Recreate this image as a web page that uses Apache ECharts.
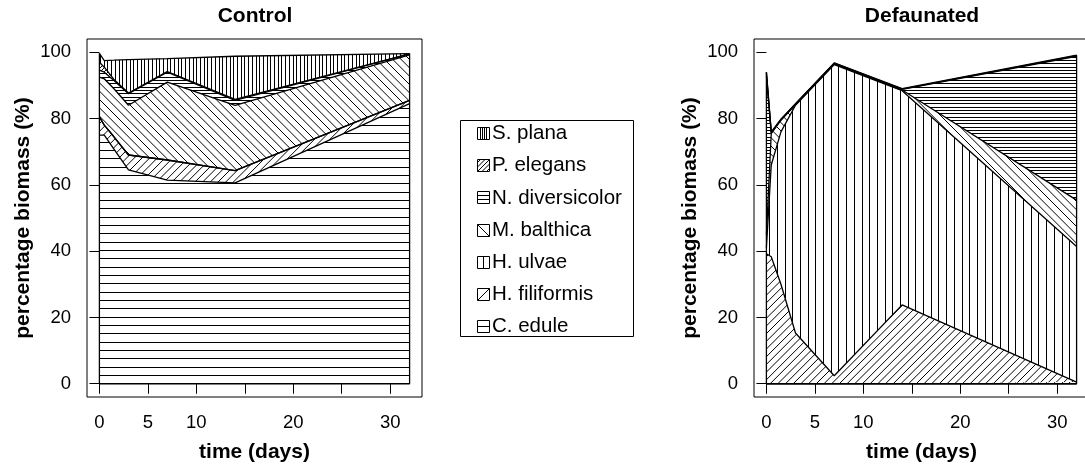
<!DOCTYPE html>
<html>
<head>
<meta charset="utf-8">
<script src="https://cdn.jsdelivr.net/npm/echarts@6/dist/echarts.min.js"></script>
<style>
  html, body { margin: 0; padding: 0; background: #fff; }
  #main { width: 1085px; height: 466px; }
</style>
</head>
<body>
<div id="main"></div>
<script>
// sampling days
const times = [0, 0.5, 1.5, 3, 7, 14, 32];

// legend order (top of stack first)
const species = ['S. plana', 'P. elegans', 'N. diversicolor', 'M. balthica', 'H. ulvae', 'H. filiformis', 'C. edule'];

// Control, % biomass per species
const controlSPlana = [2.7, 2.0, 5.8, 10.1, 3.9, 13.0, 0.1];
const controlPElegans = [2.4, 1.5, 0.3, 0.2, 0.2, 0.3, 0.0];
const controlNDiversicolor = [2.1, 2.0, 2.5, 3.5, 3.0, 1.5, 0.3];
const controlMBalthica = [12.0, 14.0, 14.5, 15.0, 23.5, 19.7, 13.7];
const controlHUlvae = [0, 0, 0, 0, 0, 0, 0];
const controlHFiliformis = [5.5, 3.0, 3.7, 4.5, 6.1, 3.7, 1.0];
const controlCEdule = [75.0, 75.0, 70.8, 64.5, 61.4, 60.6, 84.5];

// Defaunated, % biomass per species
const defSPlana = [0.2, 0.3, 0.1, 0.1, 0.1, 0.1, 0.1];
const defPElegans = [0.8, 0.1, 0.1, 0.1, 0.1, 0.1, 0.2];
const defNDiversicolor = [48.0, 0.1, 0.1, 0.1, 0.1, 0.2, 43.4];
const defMBalthica = [4.0, 9.5, 3.5, 0.2, 0.2, 0.2, 14.0];
const defHUlvae = [1.8, 27.7, 46.0, 68.7, 93.9, 64.6, 40.9];
const defHFiliformis = [39.2, 38.3, 30.0, 15.3, 2.4, 23.8, 0.5];
const defCEdule = [0, 0, 0, 0, 0, 0, 0];

// axis ticks
const xTicks = [0, 5, 10, 15, 20, 25, 30];
const xLabels = [0, 5, 10, 20, 30];
const yTicks = [0, 20, 40, 60, 80, 100];

const controlData = [controlSPlana, controlPElegans, controlNDiversicolor, controlMBalthica, controlHUlvae, controlHFiliformis, controlCEdule];
const defData = [defSPlana, defPElegans, defNDiversicolor, defMBalthica, defHUlvae, defHFiliformis, defCEdule];

const FONT = '"Liberation Sans", Arial, sans-serif';

// hatching per species: kind + lines per 100px
const hatch = {
    'S. plana': ['v', 27],
    'P. elegans': ['d1', 25],
    'N. diversicolor': ['h', 30],
    'M. balthica': ['d2', 12],
    'H. ulvae': ['v', 13],
    'H. filiformis': ['d1', 13],
    'C. edule': ['h', 12]
};

function hatchTile(kind, n) {
    const S = 100;
    const c = document.createElement('canvas');
    c.width = S; c.height = S;
    const g = c.getContext('2d');
    g.fillStyle = '#fff';
    g.fillRect(0, 0, S, S);
    g.strokeStyle = '#000';
    g.lineWidth = 1;
    g.beginPath();
    const p = S / n;
    if (kind === 'h' || kind === 'v') {
        for (let i = 0; i < n; i++) {
            const d = Math.round(i * p) + 0.5;
            if (kind === 'h') { g.moveTo(0, d); g.lineTo(S, d); }
            else { g.moveTo(d, 0); g.lineTo(d, S); }
        }
    } else if (kind === 'd1') {
        for (let k = 0; k <= 2 * n; k++) {
            const cc = k * p;
            g.moveTo(cc + 2, -2); g.lineTo(cc - S - 2, S + 2);
        }
    } else {
        for (let k = -n; k <= n; k++) {
            const cc = k * p;
            g.moveTo(cc - 2, -2); g.lineTo(cc + S + 2, S + 2);
        }
    }
    g.stroke();
    return c;
}

function swatch(name) {
    const s = 13;
    const c = document.createElement('canvas');
    c.width = s; c.height = s;
    const g = c.getContext('2d');
    g.strokeStyle = '#000';
    g.lineWidth = 1;
    g.beginPath();
    const kind = hatch[name][0];
    const dense = hatch[name][1] > 20;
    const a = 0.5, b = s - 0.5;
    if (kind === 'v') {
        const xs = dense ? [3.5, 5.5, 7.5, 9.5] : [6.5];
        xs.forEach(x => { g.moveTo(x, a); g.lineTo(x, b); });
    } else if (kind === 'h') {
        const ys = dense ? [4.5, 8.5] : [6.5];
        ys.forEach(y => { g.moveTo(a, y); g.lineTo(b, y); });
    } else if (kind === 'd1') {
        const cs = dense ? [4, 8.5, 13, 17.5, 22] : [13];
        cs.forEach(cc => { g.moveTo(Math.max(a, cc - b), Math.min(b, cc - a)); g.lineTo(Math.min(b, cc - a), Math.max(a, cc - b)); });
    } else {
        g.moveTo(a, a); g.lineTo(b, b);
    }
    g.rect(a, a, s - 1, s - 1);
    g.stroke();
    return c;
}

// cumulative totals, layer k = sum of layers from C. edule up to k
function cumulative(data) {
    const cum = [];
    let run = times.map(() => 0);
    for (let k = species.length - 1; k >= 0; k--) {
        run = run.map((v, i) => v + data[k][i]);
        cum[k] = run.slice();
    }
    return cum;
}

function panelSeries(data, idx) {
    const cum = cumulative(data);
    const out = [];
    // areas: highest cumulative first, lower layers painted over it
    for (let k = 0; k < species.length; k++) {
        const name = species[k];
        out.push({
            name: name,
            type: 'line',
            xAxisIndex: idx,
            yAxisIndex: idx,
            data: times.map((t, i) => [t, cum[k][i]]),
            symbol: 'none',
            lineStyle: { width: 0, opacity: 0 },
            areaStyle: { color: { image: hatchTile(hatch[name][0], hatch[name][1]), repeat: 'repeat' }, opacity: 1, origin: 0 },
            z: 2,
            silent: true
        });
    }
    // boundary lines on top
    for (let k = 0; k < species.length; k++) {
        out.push({
            type: 'line',
            xAxisIndex: idx,
            yAxisIndex: idx,
            data: times.map((t, i) => [t, cum[k][i]]),
            symbol: 'none',
            lineStyle: { color: '#000', width: 1.3 },
            z: 3,
            silent: true
        });
    }
    // polygon outline: left edge, base line, right edge
    const last = times.length - 1;
    out.push({
        type: 'line',
        xAxisIndex: idx,
        yAxisIndex: idx,
        data: [[times[0], cum[0][0]], [times[0], 0], [times[last], 0], [times[last], cum[0][last]]],
        symbol: 'none',
        lineStyle: { color: '#000', width: 1.3 },
        z: 3,
        silent: true
    });
    return out;
}

function xAxisFor(idx) {
    return {
        gridIndex: idx, type: 'value', min: -1.28, max: 33.28,
        axisLine: { show: false },
        splitLine: { show: false },
        axisTick: { show: true, length: 10, customValues: xTicks, lineStyle: { color: '#000', width: 1 } },
        axisLabel: { customValues: xLabels, fontSize: 18.5, color: '#000', margin: 16, fontFamily: FONT },
        name: 'time (days)', nameLocation: 'middle', nameGap: 45,
        nameTextStyle: { fontSize: 21, fontWeight: 'bold', color: '#000', fontFamily: FONT }
    };
}

function yAxisFor(idx) {
    return {
        gridIndex: idx, type: 'value', min: -4, max: 104,
        axisLine: { show: false },
        splitLine: { show: false },
        axisTick: { show: true, length: 10, customValues: yTicks, lineStyle: { color: '#000', width: 1 } },
        axisLabel: { customValues: yTicks, fontSize: 18.5, color: '#000', margin: 16, fontFamily: FONT },
        name: 'percentage biomass (%)', nameLocation: 'middle', nameGap: 53,
        nameTextStyle: { fontSize: 21, fontWeight: 'bold', color: '#000', fontFamily: FONT }
    };
}

// legend drawn as graphic elements
const legendItems = [];
legendItems.push({
    type: 'rect', shape: { x: 460.5, y: 120.5, width: 173, height: 216 },
    style: { fill: 'none', stroke: '#000', lineWidth: 1 }
});
species.forEach((name, i) => {
    const cy = 133.5 + i * 32.2;
    legendItems.push({ type: 'image', x: 477, y: Math.round(cy - 6.5), style: { image: swatch(name), width: 13, height: 13 } });
    legendItems.push({
        type: 'text', x: 492, y: cy,
        style: { text: name, font: '20.5px ' + FONT, fill: '#000', align: 'left', verticalAlign: 'middle' }
    });
});
legendItems.push({ type: 'text', x: 255, y: 16, style: { text: 'Control', font: 'bold 21px ' + FONT, fill: '#000', align: 'center', verticalAlign: 'middle' } });
legendItems.push({ type: 'text', x: 922, y: 16, style: { text: 'Defaunated', font: 'bold 21px ' + FONT, fill: '#000', align: 'center', verticalAlign: 'middle' } });

const chart = echarts.init(document.getElementById('main'), null, { renderer: 'canvas' });

const gridBase = { top: 39, width: 335, height: 358, show: true, borderColor: '#000', borderWidth: 1, backgroundColor: 'transparent', containLabel: false, outerBoundsMode: 'none' };

const option = {
    animation: false,
    backgroundColor: '#fff',
    grid: [
        Object.assign({ left: 87 }, gridBase),
        Object.assign({ left: 754 }, gridBase)
    ],
    xAxis: [xAxisFor(0), xAxisFor(1)],
    yAxis: [yAxisFor(0), yAxisFor(1)],
    series: panelSeries(controlData, 0).concat(panelSeries(defData, 1)),
    graphic: legendItems
};

chart.setOption(option);
</script>
</body>
</html>
